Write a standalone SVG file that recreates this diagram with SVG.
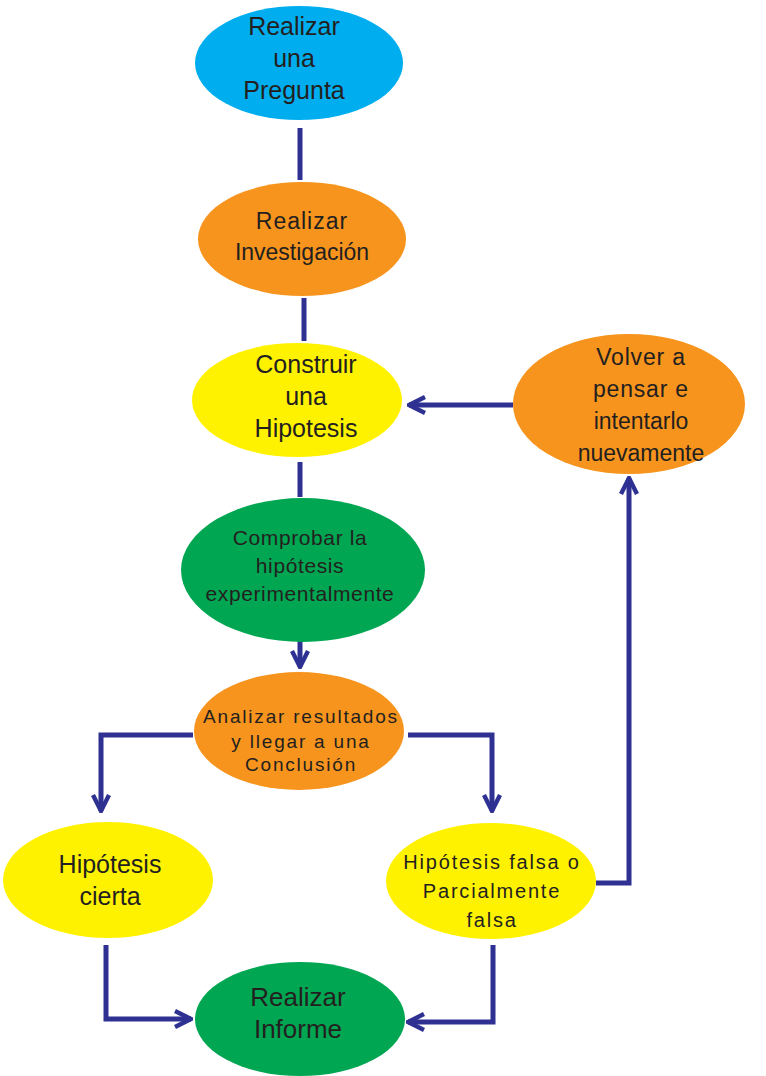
<svg xmlns="http://www.w3.org/2000/svg" width="766" height="1076" viewBox="0 0 766 1076">
<style>
text{font-family:"Liberation Sans",Arial,sans-serif;fill:#231F20;text-anchor:middle}
.c{fill:none;stroke:#2E3192;stroke-width:5}
.blue{fill:#00AEEF}.orange{fill:#F7941D}.yellow{fill:#FFF200}.green{fill:#00A651}
.f25{font-size:25px}.f23{font-size:23px}.f21{font-size:21px;letter-spacing:0.6px}.f19{font-size:19px;letter-spacing:1.8px}.ff{font-size:20px;letter-spacing:1.8px}.f26{font-size:26px}
</style>
<defs>
<marker id="a" viewBox="0 0 10 10" refX="9" refY="5" markerWidth="4" markerHeight="4" orient="auto" markerUnits="strokeWidth">
<path d="M1,1 L9,5 L1,9" fill="none" stroke="#2E3192" stroke-width="2.2"/>
</marker>
</defs>
<g id="connectors">
<line class="c" x1="300" y1="128" x2="300" y2="180"/>
<line class="c" x1="304" y1="298" x2="304" y2="341"/>
<line class="c" x1="300" y1="462" x2="300" y2="497"/>
<path class="c" d="M513,405 L409,405" marker-end="url(#a)"/>
<path class="c" d="M596,883 L629,883 L629,478" marker-end="url(#a)"/>
<path class="c" d="M300,636 L300,667" marker-end="url(#a)"/>
<path class="c" d="M193,735 L101,735 L101,811" marker-end="url(#a)"/>
<path class="c" d="M408,735 L492,735 L492,811" marker-end="url(#a)"/>
<path class="c" d="M106,945 L106,1019 L191,1019" marker-end="url(#a)"/>
<path class="c" d="M493,945 L493,1022 L408,1022" marker-end="url(#a)"/>
</g>
<g id="pregunta"><ellipse class="blue" cx="299" cy="63" rx="104" ry="57"/>
<text class="f25" x="294" y="35">Realizar</text><text class="f25" x="294" y="67">una</text><text class="f25" x="294" y="99">Pregunta</text></g>
<g id="investigacion"><ellipse class="orange" cx="302" cy="239" rx="104" ry="57"/>
<text class="f23" x="302" y="229" letter-spacing="1">Realizar</text><text class="f23" x="302" y="260">Investigación</text></g>
<g id="hipotesis"><ellipse class="yellow" cx="297" cy="400" rx="105" ry="57"/>
<text class="f25" x="306" y="373">Construir</text><text class="f25" x="306" y="405">una</text><text class="f25" x="306" y="437">Hipotesis</text></g>
<g id="volver"><ellipse class="orange" cx="629" cy="404" rx="116" ry="70"/>
<text class="f23" x="641" y="365" letter-spacing="0.8">Volver a</text><text class="f23" x="641" y="397" letter-spacing="0.8">pensar e</text><text class="f23" x="641" y="429">intentarlo</text><text class="f23" x="641" y="461">nuevamente</text></g>
<g id="comprobar"><ellipse class="green" cx="303" cy="570" rx="122" ry="72"/>
<text class="f21" x="300" y="545" letter-spacing="1.6">Comprobar la</text><text class="f21" x="300" y="573" letter-spacing="1.6">hipótesis</text><text class="f21" x="300" y="601">experimentalmente</text></g>
<g id="analizar"><ellipse class="orange" cx="299" cy="731" rx="105" ry="59"/>
<text class="f19" x="301" y="723">Analizar resultados</text><text class="f19" x="301" y="748">y llegar a una</text><text class="f19" x="301" y="771">Conclusión</text></g>
<g id="cierta"><ellipse class="yellow" cx="108" cy="880" rx="105" ry="58"/>
<text class="f25" x="110" y="873">Hipótesis</text><text class="f25" x="110" y="905">cierta</text></g>
<g id="falsa"><ellipse class="yellow" cx="491" cy="881" rx="105" ry="58"/>
<text class="ff" x="492" y="869">Hipótesis falsa o</text><text class="ff" x="492" y="898">Parcialmente</text><text class="ff" x="492" y="927">falsa</text></g>
<g id="informe"><ellipse class="green" cx="300" cy="1019" rx="105" ry="57"/>
<text class="f26" x="298" y="1006">Realizar</text><text class="f26" x="298" y="1038">Informe</text></g>
</svg>
